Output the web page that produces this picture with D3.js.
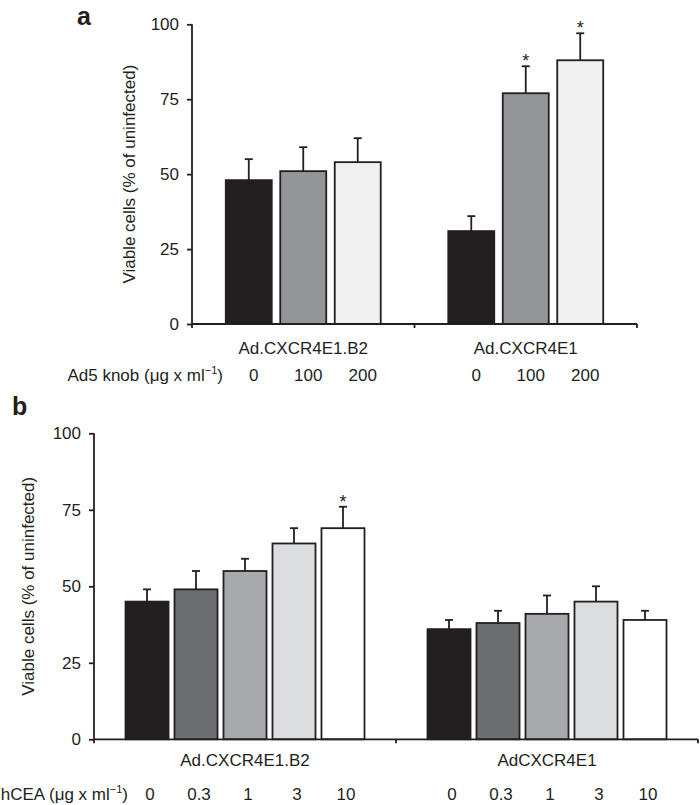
<!DOCTYPE html>
<html><head><meta charset="utf-8">
<script src="https://cdn.jsdelivr.net/npm/d3@7/dist/d3.min.js"></script>
<style>
body{margin:0;background:#fff}
svg{display:block}
text{font-family:"Liberation Sans",Arial,Helvetica,sans-serif;fill:#231f20}
</style>
</head><body>
<svg id="c" width="700" height="805"></svg>
<script>
// ---- data ----
const groupsA = ["Ad.CXCR4E1.B2", "Ad.CXCR4E1"];
const dosesA = ["0", "100", "200"];
const meansA = [[48, 51, 54], [31, 77, 88]];
const errA = [[7, 8, 8], [5, 9, 9]];
const sigA = [[0, 0, 0], [0, 1, 1]];
const colorsA = ["#231f20", "#939598", "#f1f1f2"];
const doseTitleA = "Ad5 knob (μg x ml";

const groupsB = ["Ad.CXCR4E1.B2", "AdCXCR4E1"];
const dosesB = ["0", "0.3", "1", "3", "10"];
const meansB = [[45, 49, 55, 64, 69], [36, 38, 41, 45, 39]];
const errB = [[4, 6, 4, 5, 7], [3, 4, 6, 5, 3]];
const sigB = [[0, 0, 0, 0, 1], [0, 0, 0, 0, 0]];
const colorsB = ["#231f20", "#6d6e71", "#a7a9ac", "#dcddde", "#ffffff"];
const doseTitleB = "hCEA (μg x ml";

const yTicks = [0, 25, 50, 75, 100];
const yTitle = "Viable cells (% of uninfected)";
const panelLetters = ["a", "b"];

// ---- drawing ----
const svg = d3.select("#c");
const INK = "#231f20";
const FS = 17;

function panel(o) {
  const g = svg.append("g");
  const y = d3.scaleLinear().domain([0, 100]).range([o.bottom, o.top]);
  const x0 = d3.scaleBand().domain(o.groups).range([o.left, o.right]);
  const x1 = d3.scaleBand().domain(o.doses).range([0, x0.bandwidth()])
    .paddingInner(o.pi).paddingOuter(o.po);

  o.groups.forEach((grp, gi) => {
    const gg = g.append("g");
    const rows = o.doses.map((d, di) => ({d, di, v: o.means[gi][di], e: o.err[gi][di], s: o.sig[gi][di]}));
    const cx = r => x0(grp) + x1(r.d) + x1.bandwidth() / 2;
    gg.selectAll("line.eb").data(rows).join("line")
      .attr("x1", cx).attr("x2", cx)
      .attr("y1", r => y(r.v))
      .attr("y2", r => y(r.v + r.e))
      .attr("stroke", INK).attr("stroke-width", 1.8);
    gg.selectAll("line.cap").data(rows).join("line")
      .attr("x1", r => cx(r) - 4)
      .attr("x2", r => cx(r) + 4)
      .attr("y1", r => y(r.v + r.e))
      .attr("y2", r => y(r.v + r.e))
      .attr("stroke", INK).attr("stroke-width", 1.8);
    gg.selectAll("rect").data(rows).join("rect")
      .attr("x", r => x0(grp) + x1(r.d))
      .attr("width", x1.bandwidth())
      .attr("y", r => y(r.v))
      .attr("height", r => y(0) - y(r.v))
      .attr("fill", r => o.colors[r.di])
      .attr("stroke", INK).attr("stroke-width", 1.8);
    gg.selectAll("text.sig").data(rows.filter(r => r.s)).join("text")
      .attr("x", cx)
      .attr("y", r => y(r.v + r.e) + 1)
      .attr("text-anchor", "middle").attr("font-size", 18)
      .text("*");
    gg.selectAll("text.dose").data(rows).join("text")
      .attr("x", r => cx(r) + o.doseShift)
      .attr("y", o.doseY)
      .attr("text-anchor", "middle").attr("font-size", FS)
      .text(r => r.d);
    gg.append("text")
      .attr("x", x0(grp) + x0.bandwidth() / 2)
      .attr("y", o.catY)
      .attr("text-anchor", "middle").attr("font-size", FS)
      .text(grp);
  });

  // y axis
  const ya = g.append("g").attr("transform", `translate(${o.left},0)`)
    .call(d3.axisLeft(y).tickValues(yTicks).tickSize(5).tickSizeOuter(0).tickPadding(8));
  ya.select(".domain").attr("stroke", INK).attr("stroke-width", 1.8)
    .attr("d", `M0,${y(100)}V${y(0) + 4}`);
  ya.selectAll(".tick line").attr("stroke", INK).attr("stroke-width", 1.8);
  ya.selectAll(".tick text").attr("font-size", FS)
    .attr("font-family", '"Liberation Sans",Arial,sans-serif').attr("fill", INK);

  // x axis
  const bounds = o.groups.map(d => x0(d)).concat([x0.range()[1]]);
  g.append("line").attr("x1", o.left).attr("x2", o.right)
    .attr("y1", y(0)).attr("y2", y(0)).attr("stroke", INK).attr("stroke-width", 1.8);
  g.selectAll("line.xt").data(bounds.slice(1)).join("line")
    .attr("x1", d => d).attr("x2", d => d)
    .attr("y1", y(0)).attr("y2", y(0) + 4)
    .attr("stroke", INK).attr("stroke-width", 1.8);

  // y title
  g.append("text")
    .attr("transform", `translate(${o.titleX},${(y(0) + y(100)) / 2}) rotate(-90)`)
    .attr("text-anchor", "middle").attr("font-size", FS)
    .text(yTitle);

  // dose title
  const dt = g.append("text").attr("x", o.doseTitleX).attr("y", o.doseY)
    .attr("text-anchor", "end").attr("font-size", FS);
  dt.append("tspan").text(o.doseTitle);
  dt.append("tspan").attr("font-size", 11).attr("dy", -7).text("−1");
  dt.append("tspan").attr("dy", 7).text(")");

  // panel letter
  g.append("text").attr("x", o.letterX).attr("y", o.letterY)
    .attr("font-size", 25).attr("font-weight", "bold").text(o.letter);
}

panel({
  groups: groupsA, doses: dosesA, means: meansA, err: errA, sig: sigA, colors: colorsA,
  left: 192, right: 637, top: 24.3, bottom: 324, pi: 0.156, po: 0.62,
  catY: 354, doseY: 381, doseShift: 5, doseTitle: doseTitleA, doseTitleX: 223,
  titleX: 135, letter: panelLetters[0], letterX: 77, letterY: 25
});
panel({
  groups: groupsB, doses: dosesB, means: meansB, err: errB, sig: sigB, colors: colorsB,
  left: 94, right: 698, top: 433.3, bottom: 739.3, pi: 0.122, po: 0.643,
  catY: 766, doseY: 800, doseShift: 3, doseTitle: doseTitleB, doseTitleX: 128,
  titleX: 34, letter: panelLetters[1], letterX: 12, letterY: 415
});
</script>
</body></html>
